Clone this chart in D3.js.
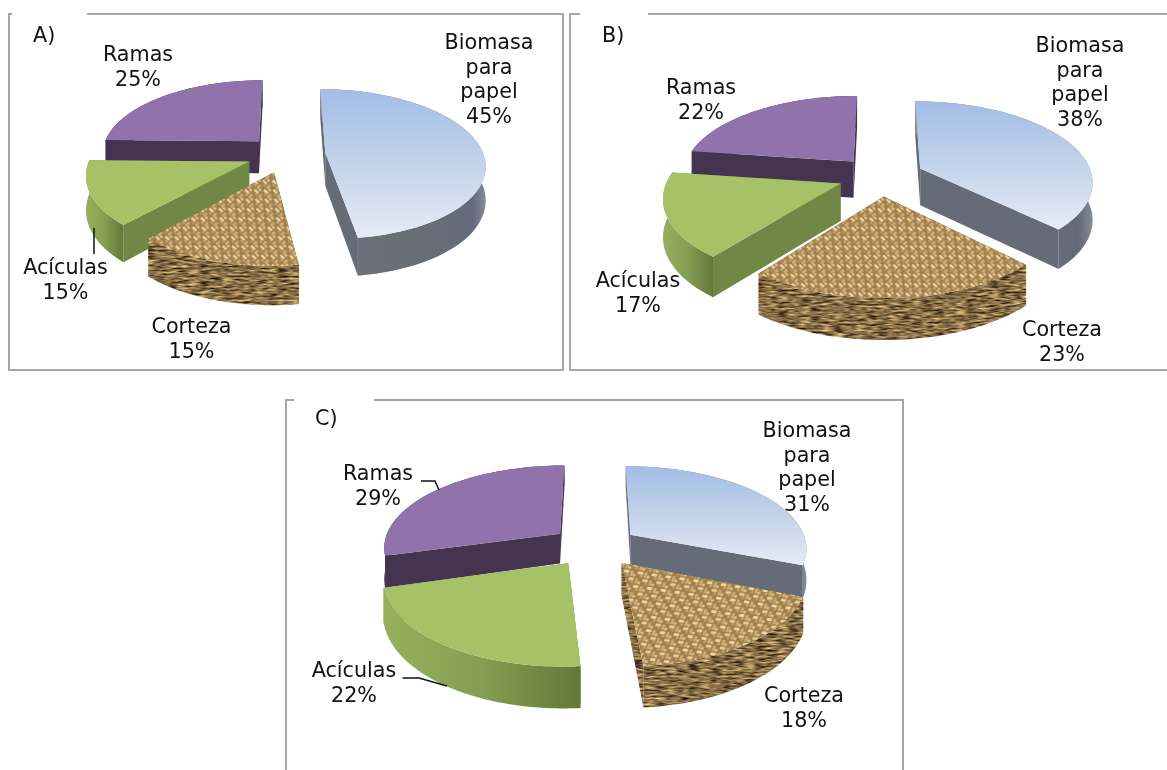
<!DOCTYPE html>
<html>
<head>
<meta charset="utf-8">
<title>Biomasa</title>
<script src="https://cdn.jsdelivr.net/npm/d3@7"></script>
<style>
  html, body { margin: 0; padding: 0; background: #fff; }
  svg { display: block; }
  text { font-family: "DejaVu Sans", sans-serif; font-size: 20.7px; fill: #111; text-anchor: middle; }
  .frame { fill: none; stroke: #a6a6a6; stroke-width: 2; }
  .leader { fill: none; stroke: #111; stroke-width: 1.5; }
</style>
</head>
<body>
<svg id="canvas"></svg>
<script>
// Tree biomass shares, one pie per panel
let categories = ['Biomasa para papel', 'Corteza', 'Acículas', 'Ramas']
let valuesA = [45, 15, 15, 25]
let valuesB = [38, 23, 17, 22]
let valuesC = [31, 18, 22, 29]

// Where each slice boundary ended up in the 3D view (degrees clockwise from top)
let viewAnglesA = [0, 172, 222, 271, 360]
let viewAnglesB = [0, 135, 218, 278, 360]
let viewAnglesC = [0, 111.6, 175.5, 254.5, 360]

let width = 1167
let height = 770

let panels = [
  {
    id: 'a', title: 'A)', titleX: 33, titleY: 42, values: valuesA, view: viewAnglesA,
    cx: 286, cy: 154, r: 158, ry: 73.6, depth: 33, depthGrow: 5, weave: 'rotate(42) scale(1,.9)',
    frame: [[87, 14], [563, 14], [563, 370], [9, 370], [9, 14], [12, 14]],
    order: [3, 0, 2, 1],
    labels: [[489, 49], [191.5, 333], [65.5, 274], [138, 61]]
  },
  {
    id: 'b', title: 'B)', titleX: 602, titleY: 42, values: valuesB, view: viewAnglesB,
    cx: 881, cy: 176, r: 172, ry: 79.4, depth: 37, depthGrow: 4, weave: 'rotate(42) scale(1,.9)',
    frame: [[648, 14], [1167, 14]],
    frame2: [[580, 14], [570, 14], [570, 370], [1167, 370]],
    order: [3, 0, 2, 1],
    labels: [[1080, 52], [1062, 336], [638, 287], [701, 94]]
  },
  {
    id: 'c', title: 'C)', titleX: 315, titleY: 425, values: valuesC, view: viewAnglesC,
    cx: 594.5, cy: 546, r: 177, ry: 82, depth: 31, depthGrow: 9, weave: 'rotate(8) skewX(-12)',
    frame: [[374, 400], [903, 400], [903, 770]],
    frame2: [[294, 400], [286, 400], [286, 770]],
    order: [3, 0, 2, 1],
    labels: [[807, 437], [804, 702], [354, 677], [378, 480]]
  }
]

let leaders = [
  [[94, 228], [94, 254]],
  [[421, 481], [435, 481], [439, 490]],
  [[402.5, 678], [419, 678], [447, 686]]
]

let perspective = 0.15
let explode = 0.25

let sliceStyle = [
  { top: 'url(#blueTop)', radial: '#656b77', outer: 'url(#blueSide)' },
  { top: null, radial: '#8d7446', outer: '#8d7446', wallFilter: 'url(#barkStreak)' },
  { top: '#a5c266', radial: '#708845', outer: 'url(#greenSide)' },
  { top: '#8f73aa', radial: '#44344f', outer: '#44344f' }
]

let svg = d3.select('#canvas').attr('width', width).attr('height', height)
let defs = svg.append('defs')

let addGradient = (id, x2, y2, stops) => {
  let g = defs.append('linearGradient').attr('id', id)
    .attr('x1', 0).attr('y1', 0).attr('x2', x2).attr('y2', y2)
  stops.forEach((s) => g.append('stop').attr('offset', s[0]).attr('stop-color', s[1]))
}

addGradient('blueTop', 0, 1, [[0, '#a2bde6'], [0.5, '#c3d3ea'], [1, '#e6ebf6']])
addGradient('blueSide', 1, 0, [[0, '#8b9099'], [0.25, '#6b7178'], [0.75, '#676d76'], [0.92, '#63697a'], [1, '#868b96']])
addGradient('greenSide', 1, 0, [[0, '#97b05f'], [0.5, '#849e52'], [1, '#627839']])

// woven top of the bark slices, one tile per panel
panels.forEach((p) => {
  let tile = defs.append('pattern').attr('id', 'barkTop' + p.id)
    .attr('patternUnits', 'userSpaceOnUse')
    .attr('width', 14).attr('height', 14)
    .attr('patternTransform', p.weave)
  tile.append('rect').attr('width', 14).attr('height', 14).attr('fill', '#a0804e')
  let threads = [
    [1, 1, 5.5, 2.8, '#ecd8a4'], [8, 1, 2.8, 5.5, '#cfaf74'],
    [8, 8, 5.5, 2.8, '#e8d29a'], [1, 8, 2.8, 5.5, '#cbaa70'],
    [4, 4, 2.8, 2.8, '#c4a36c'], [11, 4, 2.8, 2.8, '#dcc28a'],
    [4, 11, 2.8, 2.8, '#dfc68e'], [11, 11, 2.8, 2.8, '#bc9a64']
  ]
  threads.forEach((t) => {
    tile.append('rect').attr('x', t[0]).attr('y', t[1]).attr('width', t[2]).attr('height', t[3])
      .attr('rx', 1).attr('fill', t[4])
  })
})

// streaky side of the bark slices: stretched noise, brown, cut to the wall shape
let streak = defs.append('filter').attr('id', 'barkStreak')
  .attr('color-interpolation-filters', 'sRGB')
  .attr('x', 0).attr('y', 0).attr('width', 1).attr('height', 1)
streak.append('feTurbulence').attr('type', 'fractalNoise')
  .attr('baseFrequency', '0.09 0.5').attr('numOctaves', 2).attr('seed', 4).attr('result', 'noise')
streak.append('feColorMatrix').attr('in', 'noise').attr('type', 'matrix')
  .attr('values', '1.25 0 0 0 -0.1  1.1 0 0 0 -0.12  0.75 0 0 0 -0.1  0 0 0 0 1')
  .attr('result', 'brown')
streak.append('feComposite').attr('in', 'brown').attr('in2', 'SourceAlpha').attr('operator', 'in')

defs.append('filter').attr('id', 'soft')
  .append('feGaussianBlur').attr('stdDeviation', 0.6)

let toPath = d3.line()
let closed = (pts) => toPath(pts) + 'Z'

// ground plane -> screen, things nearer the viewer get bigger
let project = (p, u, v, drop) => {
  let s = 1 / (1 - perspective * v)
  return [p.cx + u * p.r * s, p.cy + v * p.ry * s + (drop ? p.depth + p.depthGrow * v : 0)]
}

let drawPie = (p) => {
  let arcs = d3.pie().sort(null).value((d) => d)(p.values)
  let angleScale = d3.scaleLinear()
    .domain([0].concat(arcs.map((a) => a.endAngle)))
    .range(p.view.map((d) => d * Math.PI / 180))

  let slices = arcs.map((a, i) => {
    let a0 = angleScale(a.startAngle)
    let a1 = angleScale(a.endAngle)
    let mid = (a0 + a1) / 2
    let u0 = explode * Math.sin(mid)
    let v0 = -explode * Math.cos(mid)
    let rim = d3.range(0, 61).map((k) => {
      let t = a0 + (a1 - a0) * k / 60
      return [u0 + Math.sin(t), v0 - Math.cos(t)]
    })
    return { i: i, apex: [u0, v0], rim: rim }
  })

  let g = svg.append('g').attr('class', 'pie-' + p.id)

  p.order.forEach((i) => {
    let sl = slices[i]
    let style = sliceStyle[i]
    let bark = i === 1
    let group = g.append('g').attr('filter', bark ? 'url(#soft)' : null)
    let rimTop = sl.rim.map((q) => project(p, q[0], q[1], false))
    let rimLow = sl.rim.map((q) => project(p, q[0], q[1], true))
    let apexTop = project(p, sl.apex[0], sl.apex[1], false)
    let apexLow = project(p, sl.apex[0], sl.apex[1], true)
    let n = rimTop.length - 1

    let walls = [
      { pts: [apexTop, rimTop[0], rimLow[0], apexLow], fill: style.radial },
      { pts: [apexTop, rimTop[n], rimLow[n], apexLow], fill: style.radial },
      { pts: rimTop.concat(rimLow.slice().reverse()), fill: style.outer }
    ]
    walls.sort((a, b) => d3.mean(a.pts, (q) => q[1]) - d3.mean(b.pts, (q) => q[1]))
    walls.forEach((w) => {
      group.append('path').attr('d', closed(w.pts)).attr('fill', w.fill)
        .attr('filter', style.wallFilter || null)
    })

    group.append('path')
      .attr('d', closed([apexTop].concat(rimTop)))
      .attr('fill', style.top || ('url(#barkTop' + p.id + ')'))
  })
}

let drawFrame = (p) => {
  svg.append('path').attr('class', 'frame').attr('d', toPath(p.frame))
  if (p.frame2) svg.append('path').attr('class', 'frame').attr('d', toPath(p.frame2))
}

let labelLines = (name, value) => {
  let words = name === categories[0] ? name.split(' ') : [name]
  return words.concat([value + '%'])
}

let drawLabels = (p) => {
  svg.append('text').attr('x', p.titleX).attr('y', p.titleY)
    .style('text-anchor', 'start').text(p.title)
  categories.forEach((name, i) => {
    let lines = labelLines(name, p.values[i])
    let pos = p.labels[i]
    let t = svg.append('text').attr('x', pos[0]).attr('y', pos[1])
    lines.forEach((line, k) => {
      t.append('tspan').attr('x', pos[0]).attr('dy', k === 0 ? 0 : 24.7).text(line)
    })
  })
}

panels.forEach(drawFrame)
panels.forEach(drawPie)
leaders.forEach((l) => svg.append('path').attr('class', 'leader').attr('d', toPath(l)))
panels.forEach(drawLabels)
</script>
</body>
</html>
